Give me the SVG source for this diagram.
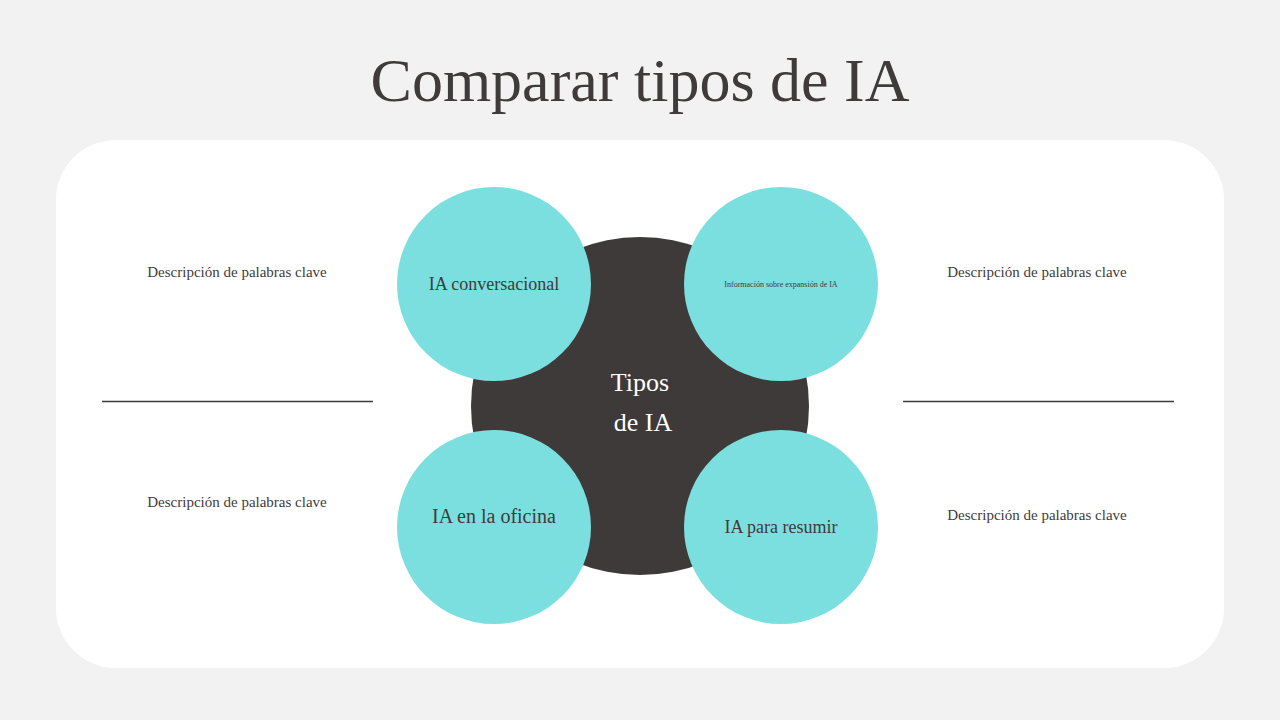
<svg xmlns="http://www.w3.org/2000/svg" width="1280" height="720" viewBox="0 0 1280 720">
<style>
.t{font-family:"Liberation Serif","DejaVu Serif",serif;fill:#3f3b3b}
.d{font-size:15px;text-anchor:middle}
.c{fill:#7cdfdf}
.n{font-size:18px;text-anchor:middle}
</style>
<rect width="1280" height="720" fill="#f3f2f2"/>
<text class="t" x="640" y="101" font-size="62" text-anchor="middle">Comparar tipos de IA</text>
<rect x="56" y="140" width="1168" height="528" rx="60" fill="#ffffff"/>
<g id="connectors">
<line x1="102" y1="401.5" x2="373" y2="401.5" stroke="#3f3b3b" stroke-width="1.5"/>
<line x1="903" y1="401.5" x2="1174" y2="401.5" stroke="#3f3b3b" stroke-width="1.5"/>
</g>
<g id="center"><circle cx="640" cy="406" r="169" fill="#3e3a3a"/>
<text class="t" x="640" y="391" font-size="26" text-anchor="middle" style="fill:#fff">Tipos</text>
<text class="t" x="643" y="431" font-size="26" text-anchor="middle" style="fill:#fff">de IA</text></g>
<g id="n1"><circle class="c" cx="494" cy="284" r="97"/><text class="t n" x="494" y="290">IA conversacional</text></g>
<g id="n2"><circle class="c" cx="781" cy="284" r="97"/><text class="t" x="781" y="287" font-size="8" text-anchor="middle">Información sobre expansión de IA</text></g>
<g id="n3"><circle class="c" cx="494" cy="527" r="97"/><text class="t" x="494" y="523" font-size="20" text-anchor="middle">IA en la oficina</text></g>
<g id="n4"><circle class="c" cx="781" cy="527" r="97"/><text class="t n" x="781" y="533" font-size="16">IA para resumir</text></g>
<g id="labels">
<text class="t d" x="237" y="277">Descripción de palabras clave</text>
<text class="t d" x="1037" y="277">Descripción de palabras clave</text>
<text class="t d" x="237" y="507">Descripción de palabras clave</text>
<text class="t d" x="1037" y="520">Descripción de palabras clave</text>
</g>
</svg>
